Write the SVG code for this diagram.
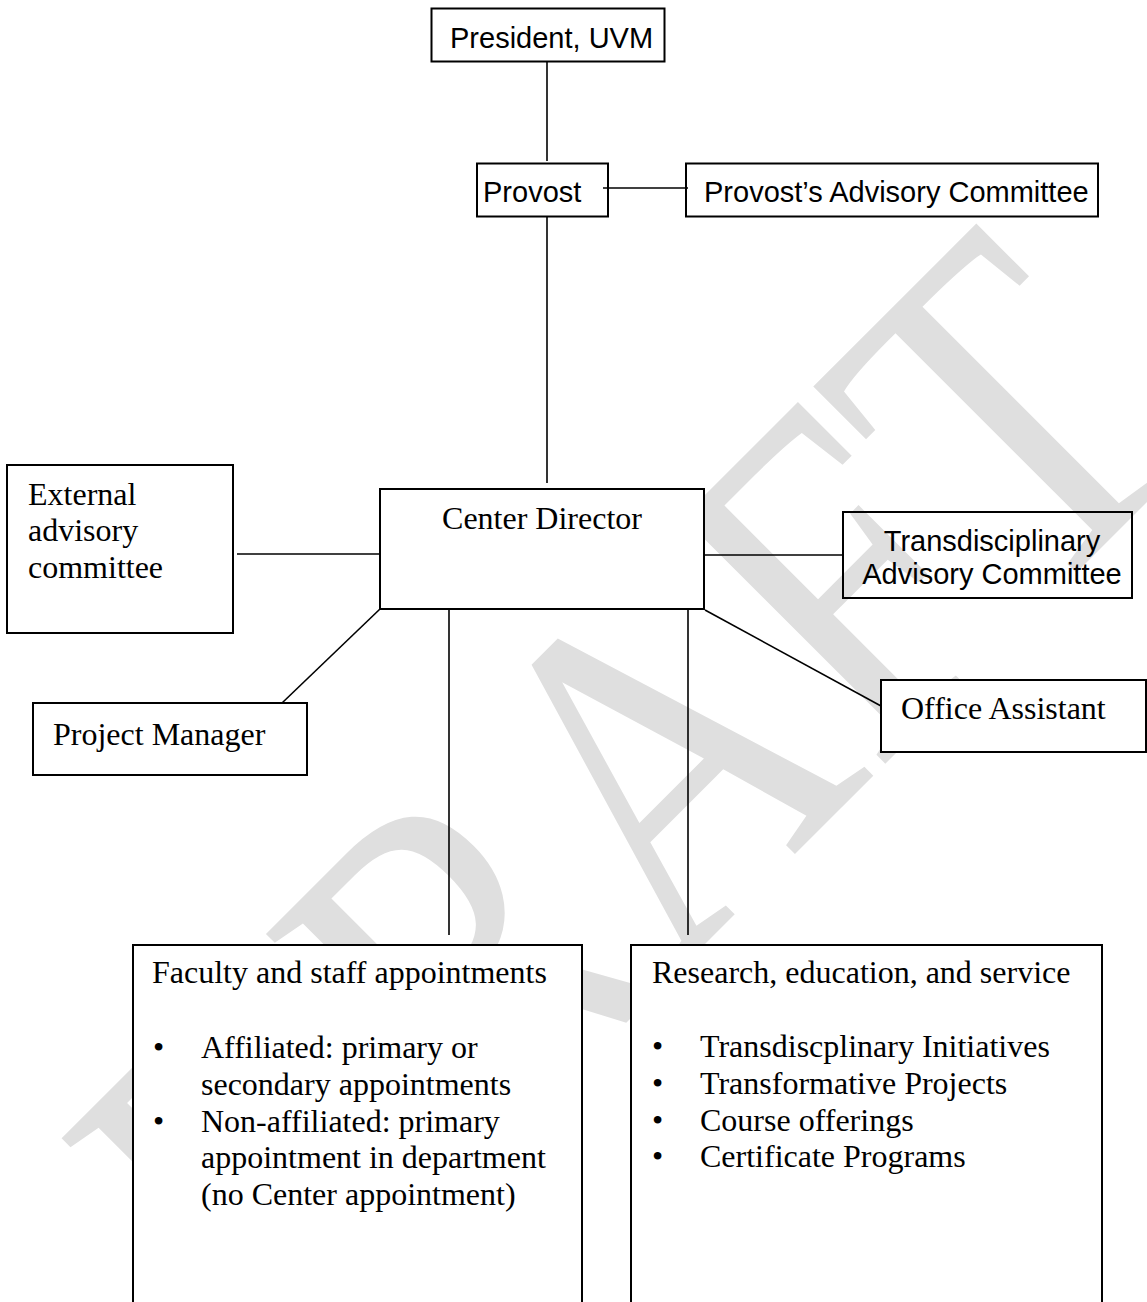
<svg xmlns="http://www.w3.org/2000/svg" width="1147" height="1302" viewBox="0 0 1147 1302">
<style>
.box{fill:#fff;stroke:#000;stroke-width:2}
.clear{fill:none;stroke:#000;stroke-width:2}
.conn line{stroke:#000;stroke-width:1.6}
.sans{font-family:"Liberation Sans",Arial,sans-serif;font-size:29px;fill:#000}
.serif{font-family:"Liberation Serif","Times New Roman",serif;font-size:32px;fill:#000}
.wm{font-family:"Liberation Serif","Times New Roman",serif;font-size:485px;fill:#dfdfdf}
</style>
<rect width="1147" height="1302" fill="#fff"/>
<g id="watermark">
<text class="wm" transform="translate(278,1371) rotate(-45) scale(0.825,1)">DRAFT</text>
</g>
<g id="president"><rect class="box" x="431.5" y="8.5" width="233" height="53"/><text class="sans" x="450" y="48">President, UVM</text></g>
<g id="provost"><rect class="box" x="477" y="163.5" width="131" height="53"/><text class="sans" x="483" y="202">Provost</text></g>
<g id="provost-advisory"><rect class="box" x="686" y="163.5" width="412" height="53"/><text class="sans" x="704" y="202">Provost’s Advisory Committee</text></g>
<g id="center-director"><rect class="box" x="380" y="489" width="324" height="120"/><text class="serif" x="542" y="529" text-anchor="middle">Center Director</text></g>
<g id="external-advisory"><rect class="box" x="7" y="465" width="226" height="168"/><text class="serif"><tspan x="28" y="505">External</tspan><tspan x="28" y="541">advisory</tspan><tspan x="28" y="578">committee</tspan></text></g>
<g id="transdisciplinary-advisory"><rect class="clear" x="843" y="512" width="289" height="86"/><text class="sans" text-anchor="middle"><tspan x="992" y="551">Transdisciplinary</tspan><tspan x="992" y="584">Advisory Committee</tspan></text></g>
<g id="project-manager"><rect class="box" x="33" y="703" width="274" height="72"/><text class="serif" x="53" y="745">Project Manager</text></g>
<g id="office-assistant"><rect class="box" x="881" y="680" width="265" height="72"/><text class="serif" x="901" y="719">Office Assistant</text></g>
<g id="faculty-staff"><rect class="box" x="133" y="945" width="449" height="380"/>
<text class="serif" x="152" y="983">Faculty and staff appointments</text>
<text class="serif"><tspan x="153" y="1058">•</tspan><tspan x="153" y="1132">•</tspan></text>
<text class="serif"><tspan x="201" y="1058">Affiliated: primary or</tspan><tspan x="201" y="1095">secondary appointments</tspan><tspan x="201" y="1132">Non-affiliated: primary</tspan><tspan x="201" y="1168">appointment in department</tspan><tspan x="201" y="1205">(no Center appointment)</tspan></text>
</g>
<g id="research-education"><rect class="box" x="631" y="945" width="471" height="380"/>
<text class="serif" x="652" y="983">Research, education, and service</text>
<text class="serif"><tspan x="652" y="1057">•</tspan><tspan x="652" y="1094">•</tspan><tspan x="652" y="1131">•</tspan><tspan x="652" y="1167">•</tspan></text>
<text class="serif"><tspan x="700" y="1057">Transdiscplinary Initiatives</tspan><tspan x="700" y="1094">Transformative Projects</tspan><tspan x="700" y="1131">Course offerings</tspan><tspan x="700" y="1167">Certificate Programs</tspan></text>
</g>
<g id="connectors" class="conn">
<line x1="547" y1="61" x2="547" y2="161"/>
<line x1="603" y1="188" x2="688" y2="188"/>
<line x1="547" y1="217" x2="547" y2="483"/>
<line x1="237" y1="554" x2="380" y2="554"/>
<line x1="704" y1="555" x2="843" y2="555"/>
<line x1="380" y1="609" x2="282" y2="703"/>
<line x1="705" y1="610" x2="881" y2="706"/>
<line x1="449" y1="609" x2="449" y2="935"/>
<line x1="688" y1="609" x2="688" y2="935"/>
</g>
</svg>
